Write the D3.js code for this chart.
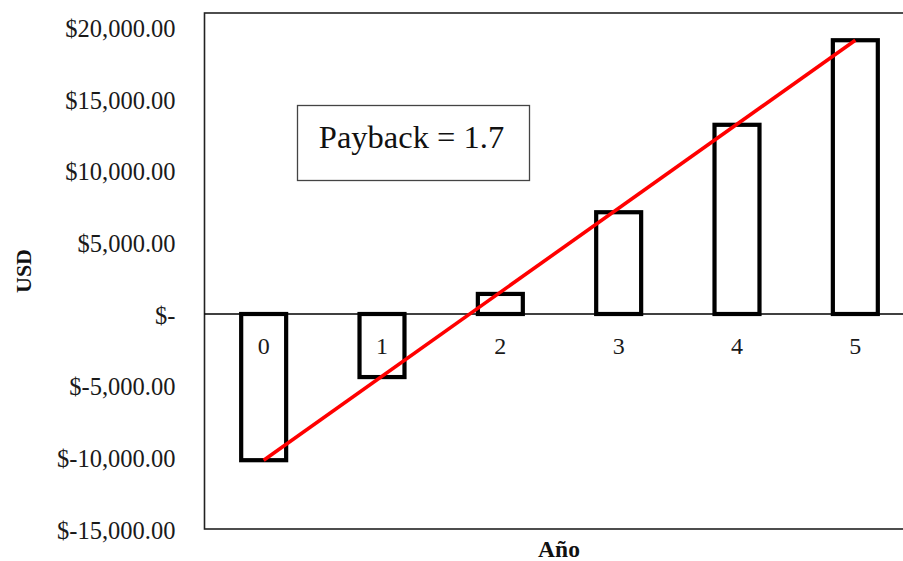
<!DOCTYPE html>
<html>
<head>
<meta charset="utf-8">
<script src="https://cdn.jsdelivr.net/npm/d3@7"></script>
<style>
  html, body { margin: 0; padding: 0; background: #fff; }
  svg { display: block; overflow: hidden; }
</style>
</head>
<body>
<svg id="chart" width="903" height="561"></svg>
<script>
// Cumulative cash flow per year (USD)
const years = [0, 1, 2, 3, 4, 5];
const cumulative = [-10200, -4400, 1400, 7100, 13200, 19100];
const tickValues = [-15000, -10000, -5000, 0, 5000, 10000, 15000, 20000];
const tickLabels = ["$-15,000.00", "$-10,000.00", "$-5,000.00", "$-", "$5,000.00", "$10,000.00", "$15,000.00", "$20,000.00"];
const paybackText = "Payback = 1.7";
const xTitle = "Año";
const yTitle = "USD";

const svg = d3.select("#chart");
const serif = "'Liberation Serif', 'Times New Roman', serif";

const plot = { left: 204.5, right: 914.5, top: 13, bottom: 529 };

const x = d3.scaleBand().domain(years).range([plot.left, plot.right]).padding(0);
const y = d3.scaleLinear().domain([-15000, 21000]).range([plot.bottom, plot.top]);
const cx = d => x(d) + x.bandwidth() / 2;
const barW = x.bandwidth() * 0.38;

// Plot frame
svg.append("rect")
  .attr("x", plot.left).attr("y", plot.top)
  .attr("width", plot.right - plot.left).attr("height", plot.bottom - plot.top)
  .attr("fill", "none").attr("stroke", "#222").attr("stroke-width", 1.6);

// Y axis labels
const yAxis = d3.axisLeft(y)
  .tickValues(tickValues)
  .tickFormat((d, i) => tickLabels[i])
  .tickSize(0)
  .tickPadding(29);
const gy = svg.append("g").attr("transform", `translate(${plot.left},0)`).call(yAxis);
gy.select(".domain").remove();
gy.selectAll("text")
  .attr("font-family", serif).attr("font-size", 24.5).attr("fill", "#1a1a1a")
  .attr("dy", "0.37em");

// Zero line
svg.append("line")
  .attr("x1", plot.left).attr("x2", plot.right)
  .attr("y1", y(0)).attr("y2", y(0))
  .attr("stroke", "#000").attr("stroke-width", 1.6);

// Year labels just below the zero line
svg.append("g").selectAll("text").data(years).join("text")
  .attr("x", d => cx(d)).attr("y", y(0) + 40)
  .attr("text-anchor", "middle")
  .attr("font-family", serif).attr("font-size", 24).attr("fill", "#1a1a1a")
  .text(d => d);

// Bars (outlined)
svg.append("g").selectAll("rect").data(years).join("rect")
  .attr("x", d => cx(d) - barW / 2)
  .attr("width", barW)
  .attr("y", (d, i) => y(Math.max(0, cumulative[i])))
  .attr("height", (d, i) => Math.abs(y(cumulative[i]) - y(0)))
  .attr("fill", "none")
  .attr("stroke", "#000")
  .attr("stroke-width", 4.2);

// Trend line from first to last cumulative value
const ends = [0, years.length - 1];
svg.append("path")
  .datum(ends)
  .attr("d", d3.line().x(i => cx(years[i])).y(i => y(cumulative[i])))
  .attr("fill", "none")
  .attr("stroke", "#ff0000")
  .attr("stroke-width", 3.6);

// Payback annotation
svg.append("rect")
  .attr("x", 297.5).attr("y", 105.5).attr("width", 232).attr("height", 75)
  .attr("fill", "#fff").attr("stroke", "#444").attr("stroke-width", 1.3);
svg.append("text")
  .attr("x", 411.5).attr("y", 148)
  .attr("text-anchor", "middle")
  .attr("font-family", serif).attr("font-size", 32.5).attr("fill", "#111")
  .text(paybackText);

// Axis titles
svg.append("text")
  .attr("x", 559).attr("y", 557)
  .attr("text-anchor", "middle")
  .attr("font-family", serif).attr("font-weight", "bold").attr("font-size", 23.5).attr("fill", "#111")
  .text(xTitle);
svg.append("text")
  .attr("transform", "translate(31,271) rotate(-90)")
  .attr("text-anchor", "middle")
  .attr("font-family", serif).attr("font-weight", "bold").attr("font-size", 22).attr("fill", "#111")
  .text(yTitle);
</script>
</body>
</html>
